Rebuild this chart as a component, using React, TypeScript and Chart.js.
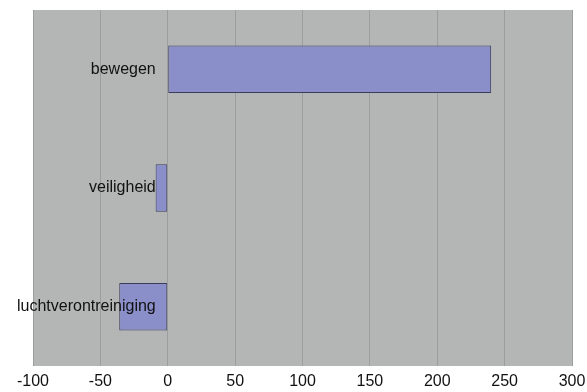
import React, { useEffect, useRef } from "react";
import { Chart, registerables } from "chart.js";

Chart.register(...registerables);

const categories = ["bewegen", "veiligheid", "luchtverontreiniging"];
const values = [240, -9, -36];
const xMin = -100;
const xMax = 300;
const xStep = 50;

const plotBg = {
  id: "plotBg",
  beforeDraw(chart: any) {
    const { ctx, chartArea } = chart;
    ctx.save();
    ctx.fillStyle = "#b4b6b6";
    ctx.fillRect(chartArea.left, chartArea.top, chartArea.right - chartArea.left, chartArea.bottom - chartArea.top);
    ctx.restore();
  },
};

const catLabels = {
  id: "catLabels",
  afterDatasetsDraw(chart: any) {
    const { ctx } = chart;
    const xs = chart.scales.x;
    const ys = chart.scales.y;
    const x0 = xs.getPixelForValue(0) - 12;
    ctx.save();
    ctx.font = "16px 'Liberation Sans', Arial, sans-serif";
    ctx.fillStyle = "#111";
    ctx.textAlign = "right";
    ctx.textBaseline = "middle";
    categories.forEach((c, i) => {
      ctx.fillText(c, x0, ys.getPixelForValue(i));
    });
    ctx.restore();
  },
};

export default function App() {
  const ref = useRef<HTMLCanvasElement>(null);
  useEffect(() => {
    document.body.style.margin = "0";
    const chart = new Chart(ref.current!, {
      type: "bar",
      data: {
        labels: categories,
        datasets: [
          {
            data: values,
            backgroundColor: "#8a8fca",
            borderColor: "#3b3d5c",
            borderWidth: 1,
            borderSkipped: false,
            barPercentage: 0.4,
            categoryPercentage: 1,
          },
        ],
      },
      options: {
        indexAxis: "y",
        animation: false,
        responsive: false,
        maintainAspectRatio: false,
        layout: { padding: { left: 33, right: 15, top: 10, bottom: 0 } },
        plugins: { legend: { display: false }, tooltip: { enabled: false } },
        scales: {
          x: {
            min: xMin,
            max: xMax,
            afterFit(scale: any) {
              scale.height = 26;
              scale.paddingLeft = 0;
              scale.paddingRight = 0;
            },
            ticks: {
              stepSize: xStep,
              color: "#111",
              font: { family: "'Liberation Sans', Arial, sans-serif", size: 16 },
              padding: 6,
              maxRotation: 0,
            },
            grid: { color: "#9c9e9e", lineWidth: 1, drawTicks: false },
            border: { display: false },
          },
          y: {
            display: false,
            grid: { display: false },
          },
        },
      },
      plugins: [plotBg, catLabels],
    });
    return () => chart.destroy();
  }, []);
  return (
    <div style={{ position: "absolute", left: 0, top: 0, width: 587, height: 392, background: "#fff" }}>
      <canvas ref={ref} width={587} height={392} style={{ width: 587, height: 392 }} />
    </div>
  );
}
